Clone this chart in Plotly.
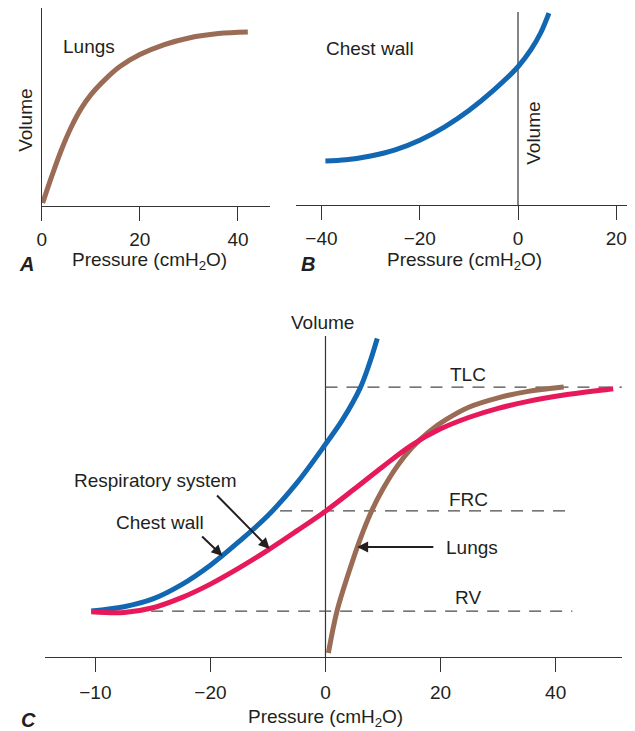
import plotly.graph_objects as go

W, H = 635, 731
FONT = "Arial, Liberation Sans, Helvetica, sans-serif"
TXT = "#231f20"
BROWN = "#9a6b55"
BLUE = "#1167b1"
RED = "#e8195a"

# ---- Panel A: lungs ----
a_p = [0.2, 2.0, 4.0, 6.0, 8.0, 10.0, 13.0, 16.0, 20.0, 25.0, 30.0, 36.0, 42.0]
a_v = [1.7, 16.6, 32.0, 45.0, 55.5, 63.5, 72.5, 79.8, 86.5, 92.2, 96.0, 98.5, 99.4]
a_ticks = [0, 20, 40]

# ---- Panel B: chest wall ----
b_p = [-39.2, -35.0, -30.0, -25.0, -20.0, -15.0, -10.0, -5.0, 0.0, 2.6, 4.6, 6.3]
b_v = [25.1, 25.8, 28.0, 31.5, 37.0, 44.5, 54.0, 65.5, 79.0, 88.6, 98.3, 109.7]
b_ticks = [-40, -20, 0, 20]
b_ticktext = ["\u221240", "\u221220", "0", "20"]

# ---- Panel C: combined ----
c_chest_p = [-40.7, -35.0, -30.0, -25.0, -20.0, -15.0, -10.0, -5.0, 0.0, 3.0, 6.0, 7.6, 9.0]
c_chest_v = [17.0, 18.6, 21.5, 26.8, 34.0, 42.8, 52.4, 64.4, 78.8, 88.0, 99.5, 108.5, 118.0]
c_resp_p = [-40.7, -35.0, -30.0, -25.0, -20.0, -15.0, -10.0, -5.0, 0.0, 5.0, 10.0, 15.0, 20.0, 25.0,
            30.0, 35.0, 42.0, 50.0]
c_resp_v = [16.8, 16.5, 18.25, 22.0, 27.0, 33.0, 39.6, 46.7, 54.0, 62.2, 70.6, 78.5, 84.5, 88.8,
            92.1, 94.6, 97.2, 99.4]
c_lung_p = [0.5, 2.0, 4.0, 6.0, 8.0, 10.0, 12.5, 15.0, 18.0, 21.0, 25.0, 30.0, 35.0, 41.4]
c_lung_v = [1.5, 17.0, 31.0, 43.5, 54.0, 62.3, 70.8, 77.5, 83.5, 88.0, 92.6, 96.0, 98.3, 100.0]
c_ticks = [-40, -20, 0, 20, 40]
c_ticktext = ["\u221210", "\u221220", "0", "20", "40"]

levels = ["TLC", "FRC", "RV"]
level_v = [100.0, 54.1, 17.0]
level_x0 = [0.0, -7.9, -30.3]
level_x1 = [51.5, 42.9, 42.9]
level_label_v = [104.8, 58.5, 22.2]


def px(x):
    return x / W


def py(y):
    return 1 - y / H


fig = go.Figure()

fig.add_trace(go.Scatter(x=a_p, y=a_v, mode="lines", line=dict(color=BROWN, width=5, shape="spline"),
                         xaxis="x", yaxis="y", hoverinfo="skip"))
fig.add_trace(go.Scatter(x=b_p, y=b_v, mode="lines", line=dict(color=BLUE, width=5, shape="spline"),
                         xaxis="x2", yaxis="y2", hoverinfo="skip"))

for name, v, x0, x1 in zip(levels, level_v, level_x0, level_x1):
    fig.add_trace(go.Scatter(x=[x0, x1], y=[v, v], mode="lines",
                             line=dict(color="#4a4a4a", width=1.2, dash="12px,9px"),
                             xaxis="x3", yaxis="y3", hoverinfo="skip"))

fig.add_trace(go.Scatter(x=c_chest_p, y=c_chest_v, mode="lines", line=dict(color=BLUE, width=5, shape="spline"),
                         xaxis="x3", yaxis="y3", hoverinfo="skip"))
fig.add_trace(go.Scatter(x=c_lung_p, y=c_lung_v, mode="lines", line=dict(color=BROWN, width=5, shape="spline"),
                         xaxis="x3", yaxis="y3", hoverinfo="skip"))
fig.add_trace(go.Scatter(x=c_resp_p, y=c_resp_v, mode="lines", line=dict(color=RED, width=5, shape="spline"),
                         xaxis="x3", yaxis="y3", hoverinfo="skip"))

axis_common = dict(showgrid=False, ticks="outside", ticklen=14, tickwidth=1.2, tickcolor="#333",
                   tickfont=dict(family=FONT, size=19, color=TXT), linecolor="#333", linewidth=1.2,
                   fixedrange=True)

fig.update_layout(
    width=W, height=H, margin=dict(l=0, r=0, t=0, b=0),
    paper_bgcolor="white", plot_bgcolor="white", showlegend=False,
    xaxis=dict(domain=[px(37), px(267)], range=[0, 46.5], tickvals=a_ticks, showline=True,
               zeroline=False, anchor="y", ticklabelstandoff=2, **axis_common),
    yaxis=dict(domain=[py(206), py(8)], range=[0, 113.1], showline=True, showticklabels=False,
               ticks="", zeroline=False, showgrid=False, linecolor="#333", linewidth=1.2, anchor="x"),
    xaxis2=dict(domain=[px(293), px(627)], range=[-45.25, 22.2], tickvals=b_ticks, ticktext=b_ticktext,
                showline=True, zeroline=False, anchor="y2", ticklabelstandoff=2, **axis_common),
    yaxis2=dict(domain=[py(205), py(12)], range=[0, 110.3], showline=False, showticklabels=False,
                ticks="", zeroline=False, showgrid=False, anchor="x2"),
    xaxis3=dict(domain=[px(40), px(622)], range=[-48.8, 51.55], tickvals=c_ticks, ticktext=c_ticktext,
                showline=True, zeroline=False, anchor="y3", ticklabelstandoff=4, **axis_common),
    yaxis3=dict(domain=[py(657), py(336)], range=[0, 118.9], showline=False, showticklabels=False,
                ticks="", zeroline=False, showgrid=False, anchor="x3"),
)

# vertical axes at zero pressure (B and C)
fig.add_shape(type="line", xref="x2", yref="y2 domain", x0=0, x1=0, y0=0, y1=1, layer="below",
              line=dict(color="#333", width=1.2))
fig.add_shape(type="line", xref="x3", yref="y3 domain", x0=0, x1=0, y0=0, y1=1, layer="below",
              line=dict(color="#333", width=1.2))

ann = []


def ptext(text, x, y, size=19, angle=0):
    ann.append(dict(text=text, x=px(x), y=py(y), xref="paper", yref="paper", showarrow=False,
                    font=dict(family=FONT, size=size, color=TXT), textangle=angle,
                    xanchor="center", yanchor="middle"))


def dtext(text, x, y, size=19):
    ann.append(dict(text=text, x=x, y=y, xref="x3", yref="y3", showarrow=False,
                    font=dict(family=FONT, size=size, color=TXT), xanchor="center", yanchor="middle"))


def arrow(x_head, y_head, x_tail, y_tail):
    ann.append(dict(text="", x=x_head, y=y_head, ax=x_tail, ay=y_tail, xref="x3", yref="y3",
                    axref="x3", ayref="y3", showarrow=True, arrowhead=2, arrowsize=1.1,
                    arrowwidth=2, arrowcolor="#231f20"))


# Panel A texts
ptext("Lungs", 85, 47)
ptext("Volume", 20, 120, angle=-90)
ptext("Pressure (cmH<sub>2</sub>O)", 146, 261)
ptext("<b><i>A</i></b>", 22, 264, size=20)

# Panel B texts
ptext("Chest wall", 368, 48)
ptext("Volume", 532, 133, angle=-90)
ptext("Pressure (cmH<sub>2</sub>O)", 463, 261)
ptext("<b><i>B</i></b>", 305, 264, size=20)

# Panel C texts
ptext("Volume", 320, 322)
ptext("Pressure (cmH<sub>2</sub>O)", 323, 718)
ptext("<b><i>C</i></b>", 24, 720, size=20)

for name, ly in zip(levels, level_label_v):
    dtext(name, 24.8, ly)

dtext("Lungs", 25.5, 40.7)
dtext("Respiratory system", -29.5, 65.2)
dtext("Chest wall", -28.8, 50.0)

arrow(5.5, 40.7, 19.0, 40.7)
arrow(-9.7, 40.0, -19.1, 60.4)
arrow(-17.9, 37.4, -21.7, 45.2)

fig.update_layout(annotations=ann)

fig.write_html("out.html", config={"displayModeBar": False},
               post_script="document.body.style.margin='0';document.body.style.overflow='hidden';")
